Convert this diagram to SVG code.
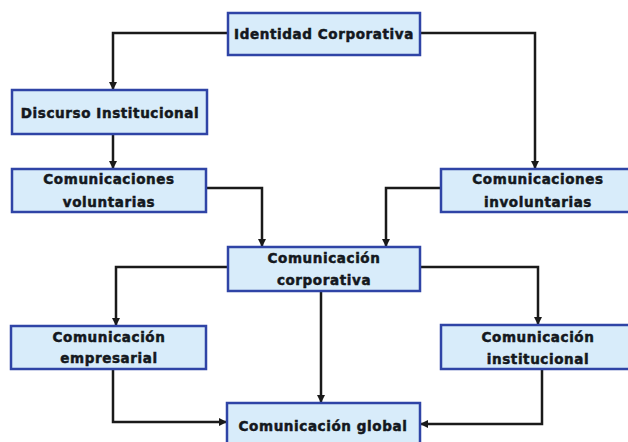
<svg xmlns="http://www.w3.org/2000/svg" width="628" height="442" viewBox="0 0 628 442">
<defs>
<marker id="arr" viewBox="0 0 10 10" refX="10" refY="5" markerWidth="8" markerHeight="8" markerUnits="userSpaceOnUse" orient="auto">
<path d="M0,0 L10,5 L0,10 z" fill="#1a1a1a"/>
</marker>
<style>
.box{fill:#d8ecfa;stroke:#2f44a6;stroke-width:2.5}
.t{font-family:"DejaVu Sans","Liberation Sans",sans-serif;font-weight:bold;font-size:13.5px;fill:#141820;stroke:#141820;stroke-width:0.5;text-anchor:middle;letter-spacing:0.6px}
.c{fill:none;stroke:#1a1a1a;stroke-width:2.5;marker-end:url(#arr)}
</style>
</defs>
<rect width="628" height="442" fill="#ffffff"/>
<g id="connectors">
<path class="c" d="M227,33 H113 V90"/>
<path class="c" d="M420,33 H535 V169"/>
<path class="c" d="M113,134 V169"/>
<path class="c" d="M206,188 H262 V247"/>
<path class="c" d="M441,188 H386 V247"/>
<path class="c" d="M228,267 H116 V326"/>
<path class="c" d="M420,267 H538 V325"/>
<path class="c" d="M321,291 V403"/>
<path class="c" d="M113,369 V422 H227"/>
<path class="c" d="M542,369 V424 H420"/>
</g>
<g id="identidad">
<rect class="box" x="228" y="13" width="192" height="42"/>
<text class="t" x="324" y="39">Identidad Corporativa</text>
</g>
<g id="discurso">
<rect class="box" x="12" y="90" width="195" height="44"/>
<text class="t" x="110" y="118">Discurso Institucional</text>
</g>
<g id="voluntarias">
<rect class="box" x="12" y="169" width="194" height="43"/>
<text class="t" x="109" y="184">Comunicaciones</text>
<text class="t" x="109" y="207">voluntarias</text>
</g>
<g id="involuntarias">
<rect class="box" x="441" y="169" width="194" height="43"/>
<text class="t" x="538" y="184">Comunicaciones</text>
<text class="t" x="538" y="207">involuntarias</text>
</g>
<g id="corporativa">
<rect class="box" x="228" y="247" width="192" height="44"/>
<text class="t" x="324" y="263">Comunicación</text>
<text class="t" x="324" y="285">corporativa</text>
</g>
<g id="empresarial">
<rect class="box" x="11" y="326" width="195" height="43"/>
<text class="t" x="109" y="342">Comunicación</text>
<text class="t" x="109" y="363">empresarial</text>
</g>
<g id="institucional">
<rect class="box" x="441" y="325" width="194" height="44"/>
<text class="t" x="538" y="342">Comunicación</text>
<text class="t" x="538" y="364">institucional</text>
</g>
<g id="global">
<rect class="box" x="227" y="403" width="193" height="44"/>
<text class="t" x="323" y="431">Comunicación global</text>
</g>
</svg>
